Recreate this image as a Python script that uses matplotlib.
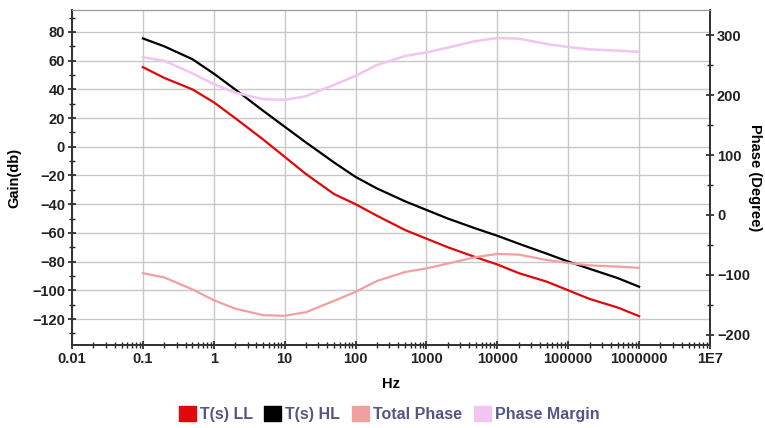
import numpy as np
import matplotlib
matplotlib.use("Agg")
import matplotlib.pyplot as plt
from matplotlib.patches import Patch
from matplotlib.ticker import FixedLocator, MultipleLocator, LogLocator, NullFormatter

plt.rcParams['font.family'] = ['Liberation Sans', 'DejaVu Sans']

# frequencies (Hz) and values
freq = [0.1, 0.2, 0.5, 1, 2, 5, 10, 20, 50, 100, 200, 500,
        1e3, 2e3, 5e3, 1e4, 2e4, 5e4, 1e5, 2e5, 5e5, 1e6]
gain_ll = [55.5, 48, 40, 31, 20, 5, -7, -19, -33, -40, -48, -58,
           -64, -70, -77, -82, -88, -94, -100, -106, -112, -118]
gain_hl = [75.5, 70, 61, 51, 40, 25, 14, 3, -11, -21, -29, -38,
           -44, -50, -57, -62, -67.5, -74.5, -80, -85, -91.5, -97.5]
total_phase = [-97, -104, -124, -142, -156, -167, -168, -162, -143, -128, -110, -95,
               -89, -81, -70, -65, -66, -75, -80, -84, -86, -88]
phase_margin = [263, 257, 236, 218, 204, 193, 192, 198, 217, 232, 250, 265,
                271, 279, 290, 295, 294, 285, 280, 276, 274, 272]

xtick_vals = [0.01, 0.1, 1, 10, 100, 1000, 10000, 100000, 1000000, 1e7]
xtick_text = ['0.01', '0.1', '1', '10', '100', '1000', '10000', '100000', '1000000', '1E7']

c_ll = '#e00808'
c_hl = '#000000'
c_tp = '#f0a0a0'
c_pm = '#f2c4f2'

fig = plt.figure(figsize=(7.65, 4.28), dpi=100)
ax = fig.add_axes([72/765, 83/428, 638/765, 335/428])
ax2 = ax.twinx()

ax.plot(freq, gain_ll, color=c_ll, lw=1.6, zorder=3)
ax.plot(freq, gain_hl, color=c_hl, lw=1.6, zorder=3)
ax2.plot(freq, total_phase, color=c_tp, lw=1.6)
ax2.plot(freq, phase_margin, color=c_pm, lw=1.8)

ax.set_xscale('log')
ax.set_xlim(0.01, 1e7)
ax.set_ylim(-138.1, 95.3)
ax2.set_ylim(-216.7, 341.7)

ax.xaxis.set_major_locator(FixedLocator(xtick_vals))
ax.set_xticklabels(xtick_text)
ax.xaxis.set_minor_locator(LogLocator(base=10, subs=np.arange(2, 10)))
ax.xaxis.set_minor_formatter(NullFormatter())
ax.yaxis.set_major_locator(MultipleLocator(20))
ax.yaxis.set_minor_locator(MultipleLocator(10))
ax2.yaxis.set_major_locator(MultipleLocator(100))
ax2.yaxis.set_minor_locator(MultipleLocator(50))

ax.grid(True, which='major', color='#c8c8c8', lw=1.0)
ax.set_axisbelow(True)

for a in (ax, ax2):
    a.tick_params(which='major', direction='inout', length=6, width=1.2,
                  colors='#222222', labelsize=10.5, pad=2)
    a.tick_params(which='minor', direction='inout', length=4, width=1.0, colors='#222222')
    for lbl in a.get_xticklabels() + a.get_yticklabels():
        lbl.set_fontweight('bold')
    a.spines['top'].set_color('#9a9a9a')
    a.spines['left'].set_color('#333333')
    a.spines['bottom'].set_color('#333333')
    a.spines['right'].set_color('#333333')
    a.spines['left'].set_linewidth(1.3)
    a.spines['bottom'].set_linewidth(1.3)
    a.spines['right'].set_linewidth(1.3)
ax2.tick_params(axis='x', which='both', top=False)

ax.set_xlabel('Hz', fontsize=10.5, fontweight='bold')
ax.xaxis.set_label_coords(0.5, -0.095)
ax.set_ylabel('Gain(db)', fontsize=10.5, fontweight='bold')
ax.yaxis.set_label_coords(-0.08, 0.5)
ax2.set_ylabel('Phase (Degree)', fontsize=10.5, fontweight='bold', rotation=270, va='center')
ax2.yaxis.set_label_coords(1.071, 0.5)

handles = [Patch(color=c_ll), Patch(color=c_hl), Patch(color=c_tp), Patch(color=c_pm)]
labels = ['T(s) LL', 'T(s) HL', 'Total Phase', 'Phase Margin']
leg = fig.legend(handles, labels, loc='center', bbox_to_anchor=(389/765, 1 - 414/428),
                 ncol=4, frameon=False, handlelength=1.05, handleheight=1.05,
                 handletextpad=0.25, columnspacing=0.75, fontsize=11.5)
for t in leg.get_texts():
    t.set_color('#555585')
    t.set_fontweight('bold')

fig.savefig('out.png', dpi=100, facecolor='white')
